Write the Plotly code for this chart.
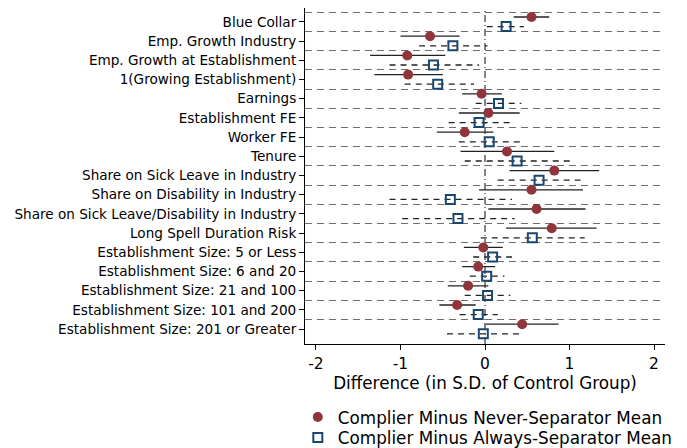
import plotly.graph_objects as go

categories = [
    "Blue Collar", "Emp. Growth Industry", "Emp. Growth at Establishment",
    "1(Growing Establishment)", "Earnings", "Establishment FE", "Worker FE",
    "Tenure", "Share on Sick Leave in Industry", "Share on Disability in Industry",
    "Share on Sick Leave/Disability in Industry", "Long Spell Duration Risk",
    "Establishment Size: 5 or Less", "Establishment Size: 6 and 20",
    "Establishment Size: 21 and 100", "Establishment Size: 101 and 200",
    "Establishment Size: 201 or Greater",
]

never_mean = [0.55, -0.65, -0.92, -0.91, -0.04, 0.04, -0.24, 0.26, 0.82, 0.55,
              0.61, 0.79, -0.02, -0.08, -0.20, -0.33, 0.44]
never_lo = [0.34, -1.00, -1.36, -1.31, -0.27, -0.31, -0.57, -0.29, 0.29, -0.07,
            0.04, 0.25, -0.25, -0.27, -0.44, -0.54, 0.01]
never_hi = [0.76, -0.30, -0.47, -0.50, 0.20, 0.41, 0.10, 0.82, 1.35, 1.16,
            1.19, 1.32, 0.21, 0.12, 0.04, -0.11, 0.87]

always_mean = [0.25, -0.38, -0.61, -0.56, 0.16, -0.07, 0.05, 0.38, 0.64, -0.41,
               -0.32, 0.56, 0.09, 0.02, 0.03, -0.08, -0.02]
always_lo = [0.02, -0.78, -1.13, -0.95, -0.11, -0.43, -0.31, -0.24, 0.15, -1.13,
             -0.98, -0.05, -0.14, -0.18, -0.24, -0.30, -0.45]
always_hi = [0.46, 0.03, -0.07, -0.13, 0.43, 0.30, 0.42, 1.01, 1.13, 0.32,
             0.35, 1.18, 0.32, 0.23, 0.30, 0.15, 0.42]

x_ticks = [-2, -1, 0, 1, 2]

RED = "#90353B"
BLUE = "#1A476F"
OFF = 0.25

idx = list(range(len(categories)))
y_never = [i - OFF for i in idx]
y_always = [i + OFF for i in idx]


def seg(lo, hi, ys):
    xs, yy = [], []
    for a, b, y in zip(lo, hi, ys):
        xs += [a, b, None]
        yy += [y, y, None]
    return xs, yy


fig = go.Figure()

xs, yy = seg(never_lo, never_hi, y_never)
fig.add_trace(go.Scatter(x=xs, y=yy, mode="lines", line=dict(color="#222222", width=1.3),
                         showlegend=False, hoverinfo="skip"))
xs, yy = seg(always_lo, always_hi, y_always)
fig.add_trace(go.Scatter(x=xs, y=yy, mode="lines",
                         line=dict(color="#222222", width=1.3, dash="6px,5px"),
                         showlegend=False, hoverinfo="skip"))

fig.add_trace(go.Scatter(x=never_mean, y=y_never, mode="markers",
                         marker=dict(symbol="circle", size=10, color=RED),
                         name="Complier Minus Never-Separator Mean", legend="legend"))
fig.add_trace(go.Scatter(x=always_mean, y=y_always, mode="markers",
                         marker=dict(symbol="square-open", size=9, color=BLUE,
                                     line=dict(width=2, color=BLUE)),
                         name="Complier Minus Always-Separator Mean", legend="legend2"))

fig.add_shape(type="line", xref="x", yref="paper", x0=0, x1=0, y0=0, y1=1,
              line=dict(color="#333333", width=1.2, dash="7px,3px,1px,3px"), layer="below")

leg_common = dict(x=-0.02, xref="paper", yref="container", xanchor="left", yanchor="top",
                  font=dict(size=16.8), itemwidth=30, bgcolor="rgba(0,0,0,0)")

fig.update_layout(
    width=679, height=440,
    margin=dict(l=297, r=22, t=0, b=104),
    paper_bgcolor="white", plot_bgcolor="white",
    font=dict(family="DejaVu Sans", color="black", size=13),
    showlegend=True,
    legend=dict(y=0.11, **leg_common),
    legend2=dict(y=0.0635, **leg_common),
    xaxis=dict(range=[-2.13, 2.13], tickvals=x_ticks, ticktext=[str(t) for t in x_ticks],
               showgrid=False, zeroline=False, showline=True, linecolor="black", linewidth=1,
               ticks="outside", ticklen=5, tickcolor="black", tickfont=dict(size=15.5),
               title=dict(text="Difference (in S.D. of Control Group)", font=dict(size=16.8), standoff=1)),
    yaxis=dict(range=[16.78, -0.72], tickvals=idx, ticktext=categories,
               showgrid=False, zeroline=False, showline=True, linecolor="black", linewidth=1,
               ticks="outside", ticklen=5, tickcolor="black", tickfont=dict(size=13.6),
               minor=dict(tickvals=[i - 0.5 for i in idx], showgrid=True, gridcolor="#6e6e6e",
                          griddash="7px,5px", gridwidth=1, ticks="")),
)

fig.write_html("out.html")
